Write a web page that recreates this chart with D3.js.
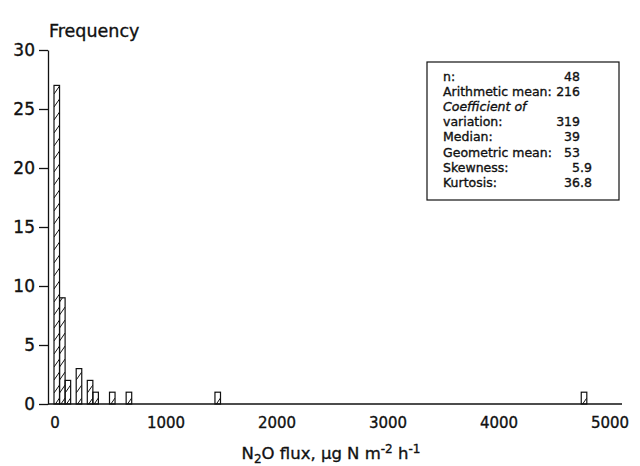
<!DOCTYPE html>
<html>
<head>
<meta charset="utf-8">
<script src="https://cdn.jsdelivr.net/npm/d3@7/dist/d3.min.js"></script>
<style>
html,body{margin:0;padding:0;background:#fff;}
svg{display:block;}
text{font-family:"DejaVu Sans",sans-serif;fill:#111;stroke:#111;stroke-width:0.35;}
</style>
</head>
<body>
<svg id="chart" width="640" height="466"></svg>
<script>
// ---- data ----
const binStart = [0, 50, 100, 200, 300, 350, 500, 650, 1450, 4750];
const binEnd   = [50, 100, 150, 250, 350, 400, 550, 700, 1500, 4800];
const counts   = [27, 9, 2, 3, 2, 1, 1, 1, 1, 1];
const yTicks = [0, 5, 10, 15, 20, 25, 30];
const xTicks = [0, 1000, 2000, 3000, 4000, 5000];
const statLabels = ["n:", "Arithmetic mean:", "Coefficient of", "variation:", "Median:", "Geometric mean:", "Skewness:", "Kurtosis:"];
const statValues = ["48", "216", "", "319", "39", "53", "5.9", "36.8"];
const yTitle = "Frequency";

// ---- layout ----
const svg = d3.select("#chart");
const x = d3.scaleLinear().domain([0, 5000]).range([54, 609]);
const y = d3.scaleLinear().domain([0, 30]).range([404, 50]);
const axisX0 = 48, axisX1 = 622;

// y axis
const yAxis = d3.axisLeft(y).tickValues(yTicks).tickSize(9).tickPadding(4).tickSizeOuter(0);
const gy = svg.append("g").attr("transform", `translate(${axisX0},0)`).call(yAxis);
gy.select(".domain").attr("stroke", "#111").attr("stroke-width", 1.3);
gy.selectAll(".tick line").attr("stroke", "#111").attr("stroke-width", 1.3);
gy.selectAll(".tick text").attr("font-size", 17).attr("font-family", "DejaVu Sans").attr("fill", "#111");

// x axis line (no ticks)
svg.append("line").attr("x1", axisX0).attr("x2", axisX1)
  .attr("y1", y(0)).attr("y2", y(0)).attr("stroke", "#111").attr("stroke-width", 1.3);

// x tick labels
svg.append("g").selectAll("text").data(xTicks).join("text")
  .attr("x", d => x(d) + 1).attr("y", 428).attr("text-anchor", "middle")
  .attr("font-size", 15).text(d => d);

// y title
svg.append("text").attr("x", 49).attr("y", 37).attr("font-size", 17.5).text(yTitle);

// bars
const bars = binStart.map((s, i) => ({x0: s, x1: binEnd[i], c: counts[i]}));
const gb = svg.append("g");
bars.forEach((b, i) => {
  const bx0 = x(b.x0), bx1 = x(b.x1), by = y(b.c), yb = y(0);
  const clipId = "clip" + i;
  svg.append("clipPath").attr("id", clipId).append("rect")
    .attr("x", bx0).attr("y", by).attr("width", bx1 - bx0).attr("height", yb - by);
  const hatch = gb.append("g").attr("clip-path", `url(#${clipId})`);
  const step = 13, rise = 8;
  for (let yy = yb + 2; yy > by - rise; yy -= step) {
    hatch.append("line").attr("x1", bx0).attr("y1", yy).attr("x2", bx1).attr("y2", yy - rise)
      .attr("stroke", "#111").attr("stroke-width", 1);
  }
  gb.append("rect").attr("x", bx0).attr("y", by).attr("width", bx1 - bx0).attr("height", yb - by)
    .attr("fill", "none").attr("stroke", "#111").attr("stroke-width", 1.2);
});

// stats box
const box = svg.append("g");
box.append("rect").attr("x", 427).attr("y", 62).attr("width", 192).attr("height", 138)
  .attr("fill", "#fff").attr("stroke", "#111").attr("stroke-width", 1.2);
const lineY = i => 81 + i * 15.1;
statLabels.forEach((l, i) => {
  box.append("text").attr("x", 443).attr("y", lineY(i)).attr("font-size", 12.5)
    .attr("font-style", i === 2 ? "italic" : "normal").text(l);
});
const valAlign = 580;
statValues.forEach((v, i) => {
  if (!v) return;
  const parts = v.split(".");
  box.append("text").attr("x", valAlign).attr("y", lineY(i)).attr("font-size", 12.5)
    .attr("text-anchor", "end").text(parts[0]);
  if (parts.length > 1) {
    box.append("text").attr("x", valAlign).attr("y", lineY(i)).attr("font-size", 12.5)
      .attr("text-anchor", "start").text("." + parts[1]);
  }
});

// x title
const xt = svg.append("text").attr("x", 331).attr("y", 459).attr("text-anchor", "middle").attr("font-size", 16.5);
xt.append("tspan").text("N");
xt.append("tspan").attr("font-size", 12).attr("dy", 4).text("2");
xt.append("tspan").attr("dy", -4).text("O flux, μg N m");
xt.append("tspan").attr("font-size", 12).attr("dy", -6).text("-2");
xt.append("tspan").attr("dy", 6).text(" h");
xt.append("tspan").attr("font-size", 12).attr("dy", -6).text("-1");
</script>
</body>
</html>
